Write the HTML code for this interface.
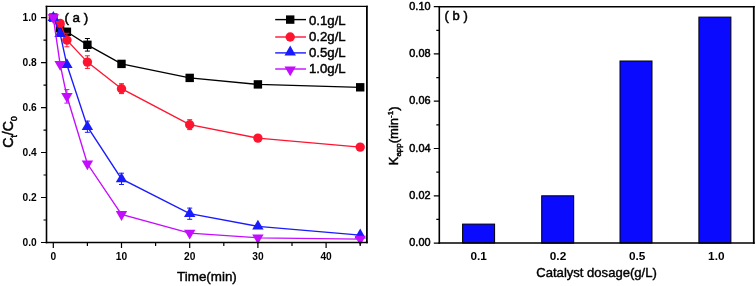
<!DOCTYPE html><html><head><meta charset="utf-8"><title>Figure</title><style>html,body{margin:0;padding:0;background:#fff}svg{display:block}text{font-family:"Liberation Sans",Arial,sans-serif;fill:#000}</style></head><body>
<svg width="756" height="286" viewBox="0 0 756 286">
<rect width="756" height="286" fill="#fff"/>
<g id="chartA">
<polyline points="53.3,17.6 60.1,28.2 66.9,31.8 87.4,44.8 121.5,63.9 189.7,77.9 257.9,84.4 360.2,87.3" fill="none" stroke="#000000" stroke-width="1.35"/>
<rect x="49.1" y="13.4" width="8.4" height="8.4" fill="#000000"/>
<rect x="55.9" y="24.0" width="8.4" height="8.4" fill="#000000"/>
<path d="M66.9,28.4V35.1M64.4,28.4h5M64.4,35.1h5" stroke="#000000" stroke-width="1" fill="none"/>
<rect x="62.7" y="27.6" width="8.4" height="8.4" fill="#000000"/>
<path d="M87.4,38.5V51.1M84.9,38.5h5M84.9,51.1h5" stroke="#000000" stroke-width="1" fill="none"/>
<rect x="83.2" y="40.6" width="8.4" height="8.4" fill="#000000"/>
<rect x="117.3" y="59.7" width="8.4" height="8.4" fill="#000000"/>
<rect x="185.5" y="73.7" width="8.4" height="8.4" fill="#000000"/>
<rect x="253.7" y="80.2" width="8.4" height="8.4" fill="#000000"/>
<rect x="356.0" y="83.1" width="8.4" height="8.4" fill="#000000"/>
<polyline points="53.3,17.6 60.1,23.4 66.9,40.1 87.4,62.1 121.5,88.7 189.7,124.7 257.9,138.1 360.2,147.1" fill="none" stroke="#ff1430" stroke-width="1.35"/>
<circle cx="53.3" cy="17.6" r="4.7" fill="#ff1430"/>
<circle cx="60.1" cy="23.4" r="4.7" fill="#ff1430"/>
<path d="M66.9,33.3V46.8M64.4,33.3h5M64.4,46.8h5" stroke="#ff1430" stroke-width="1" fill="none"/>
<circle cx="66.9" cy="40.1" r="4.7" fill="#ff1430"/>
<path d="M87.4,55.8V68.4M84.9,55.8h5M84.9,68.4h5" stroke="#ff1430" stroke-width="1" fill="none"/>
<circle cx="87.4" cy="62.1" r="4.7" fill="#ff1430"/>
<path d="M121.5,83.7V93.6M119.0,83.7h5M119.0,93.6h5" stroke="#ff1430" stroke-width="1" fill="none"/>
<circle cx="121.5" cy="88.7" r="4.7" fill="#ff1430"/>
<path d="M189.7,119.7V129.6M187.2,119.7h5M187.2,129.6h5" stroke="#ff1430" stroke-width="1" fill="none"/>
<circle cx="189.7" cy="124.7" r="4.7" fill="#ff1430"/>
<circle cx="257.9" cy="138.1" r="4.7" fill="#ff1430"/>
<circle cx="360.2" cy="147.1" r="4.7" fill="#ff1430"/>
<polyline points="53.3,17.6 60.1,33.6 66.9,64.8 87.4,126.7 121.5,178.9 189.7,213.7 257.9,226.3 360.2,235.1" fill="none" stroke="#1a1aff" stroke-width="1.35"/>
<polygon points="53.3,11.1 47.6,20.9 59.0,20.9" fill="#1a1aff"/>
<polygon points="60.1,27.1 54.4,36.9 65.8,36.9" fill="#1a1aff"/>
<polygon points="66.9,58.3 61.2,68.1 72.6,68.1" fill="#1a1aff"/>
<path d="M87.4,121.1V132.3M84.9,121.1h5M84.9,132.3h5" stroke="#1a1aff" stroke-width="1" fill="none"/>
<polygon points="87.4,120.2 81.7,130.0 93.1,130.0" fill="#1a1aff"/>
<path d="M121.5,173.2V184.5M119.0,173.2h5M119.0,184.5h5" stroke="#1a1aff" stroke-width="1" fill="none"/>
<polygon points="121.5,172.4 115.8,182.2 127.2,182.2" fill="#1a1aff"/>
<path d="M189.7,208.1V219.3M187.2,208.1h5M187.2,219.3h5" stroke="#1a1aff" stroke-width="1" fill="none"/>
<polygon points="189.7,207.2 184.0,217.0 195.4,217.0" fill="#1a1aff"/>
<polygon points="257.9,219.8 252.2,229.6 263.6,229.6" fill="#1a1aff"/>
<polygon points="360.2,228.6 354.5,238.4 365.9,238.4" fill="#1a1aff"/>
<polyline points="53.3,17.6 60.1,64.2 66.9,96.3 87.4,163.8 121.5,214.4 189.7,233.1 257.9,237.8 360.2,239.1" fill="none" stroke="#c40cff" stroke-width="1.35"/>
<polygon points="53.3,24.1 47.6,14.3 59.0,14.3" fill="#c40cff"/>
<polygon points="60.1,70.7 54.4,60.9 65.8,60.9" fill="#c40cff"/>
<path d="M66.9,89.6V103.1M64.4,89.6h5M64.4,103.1h5" stroke="#c40cff" stroke-width="1" fill="none"/>
<polygon points="66.9,102.8 61.2,93.0 72.6,93.0" fill="#c40cff"/>
<polygon points="87.4,170.3 81.7,160.5 93.1,160.5" fill="#c40cff"/>
<polygon points="121.5,220.9 115.8,211.1 127.2,211.1" fill="#c40cff"/>
<polygon points="189.7,239.6 184.0,229.8 195.4,229.8" fill="#c40cff"/>
<polygon points="257.9,244.3 252.2,234.5 263.6,234.5" fill="#c40cff"/>
<polygon points="360.2,245.6 354.5,235.8 365.9,235.8" fill="#c40cff"/>
<path d="M46.5,5.75V243.3" stroke="#000" stroke-width="1.6" fill="none"/>
<path d="M366.9,5.75V243.3" stroke="#000" stroke-width="1.8" fill="none"/>
<path d="M45.7,6.35H367.79999999999995" stroke="#000" stroke-width="1.25" fill="none"/>
<path d="M45.7,242.5H367.79999999999995" stroke="#000" stroke-width="1.6" fill="none"/>
<path d="M46.5,242.5h-5.5M46.5,220.0h-3M46.5,197.5h-5.5M46.5,175.0h-3M46.5,152.5h-5.5M46.5,130.1h-3M46.5,107.6h-5.5M46.5,85.1h-3M46.5,62.6h-5.5M46.5,40.1h-3M46.5,17.6h-5.5M53.3,242.5v5.6M87.4,242.5v3.6M121.5,242.5v5.6M155.6,242.5v3.6M189.7,242.5v5.6M223.8,242.5v3.6M257.9,242.5v5.6M292.0,242.5v3.6M326.1,242.5v5.6M360.2,242.5v3.6" stroke="#000" stroke-width="1.2" fill="none"/>
<text x="36.7" y="245.6" font-size="10.2" font-weight="bold" text-anchor="end">0.0</text>
<text x="36.7" y="200.6" font-size="10.2" font-weight="bold" text-anchor="end">0.2</text>
<text x="36.7" y="155.6" font-size="10.2" font-weight="bold" text-anchor="end">0.4</text>
<text x="36.7" y="110.7" font-size="10.2" font-weight="bold" text-anchor="end">0.6</text>
<text x="36.7" y="65.7" font-size="10.2" font-weight="bold" text-anchor="end">0.8</text>
<text x="36.7" y="20.7" font-size="10.2" font-weight="bold" text-anchor="end">1.0</text>
<text x="53.3" y="259.9" font-size="10.2" font-weight="bold" text-anchor="middle">0</text>
<text x="121.5" y="259.9" font-size="10.2" font-weight="bold" text-anchor="middle">10</text>
<text x="189.7" y="259.9" font-size="10.2" font-weight="bold" text-anchor="middle">20</text>
<text x="257.9" y="259.9" font-size="10.2" font-weight="bold" text-anchor="middle">30</text>
<text x="326.1" y="259.9" font-size="10.2" font-weight="bold" text-anchor="middle">40</text>
<text x="64.4" y="21.5" font-size="13.4" xml:space="preserve" stroke="#000" stroke-width="0.5">( a )</text>
<text x="177.1" y="281.4" font-size="12.7" textLength="59.7" lengthAdjust="spacingAndGlyphs" stroke="#000" stroke-width="0.4">Time(min)</text>
<text transform="translate(13.3,132) rotate(-90)" font-size="14.2" text-anchor="middle" stroke="#000" stroke-width="0.5">C<tspan font-size="8.5" dy="3.2">t</tspan><tspan dy="-3.2">/C</tspan><tspan font-size="8.5" dy="3.2">0</tspan></text>
<path d="M275.2,19.6H306" stroke="#000000" stroke-width="1.4"/>
<rect x="286.0" y="15.4" width="8.4" height="8.4" fill="#000000"/>
<text x="309" y="24.7" font-size="13.2" stroke="#000" stroke-width="0.45">0.1g/L</text>
<path d="M275.2,37.0H306" stroke="#ff1430" stroke-width="1.4"/>
<circle cx="290.2" cy="37.0" r="4.7" fill="#ff1430"/>
<text x="309" y="41.0" font-size="13.2" stroke="#000" stroke-width="0.45">0.2g/L</text>
<path d="M275.2,52.9H306" stroke="#1a1aff" stroke-width="1.4"/>
<polygon points="290.2,45.6 284.5,55.4 295.9,55.4" fill="#1a1aff"/>
<text x="309" y="56.6" font-size="13.2" stroke="#000" stroke-width="0.45">0.5g/L</text>
<path d="M275.2,69.0H306" stroke="#c40cff" stroke-width="1.4"/>
<polygon points="290.2,76.3 284.5,66.5 295.9,66.5" fill="#c40cff"/>
<text x="309" y="72.9" font-size="13.2" stroke="#000" stroke-width="0.45">1.0g/L</text>
</g>
<g id="chartB">
<rect x="462.6" y="224.1" width="32" height="18.9" fill="#0a0aff" stroke="#000" stroke-width="1"/>
<rect x="541.7" y="195.8" width="32" height="47.3" fill="#0a0aff" stroke="#000" stroke-width="1"/>
<rect x="620.0" y="61.0" width="32" height="182.0" fill="#0a0aff" stroke="#000" stroke-width="1"/>
<rect x="698.9" y="17.1" width="32" height="226.0" fill="#0a0aff" stroke="#000" stroke-width="1"/>
<path d="M439.3,5.95V243.85000000000002" stroke="#000" stroke-width="1.6" fill="none"/>
<path d="M753.8,5.95V243.85000000000002" stroke="#000" stroke-width="1.8" fill="none"/>
<path d="M438.5,6.65H754.6999999999999" stroke="#000" stroke-width="1.5" fill="none"/>
<path d="M438.5,243.05H754.6999999999999" stroke="#000" stroke-width="1.6" fill="none"/>
<path d="M439.3,243.1h-5.5M439.3,219.4h-3M439.3,195.8h-5.5M439.3,172.1h-3M439.3,148.5h-5.5M439.3,124.9h-3M439.3,101.2h-5.5M439.3,77.6h-3M439.3,53.9h-5.5M439.3,30.3h-3M439.3,6.7h-5.5" stroke="#000" stroke-width="1.2" fill="none"/>
<text x="430.5" y="246.1" font-size="10.9" stroke="#000" stroke-width="0.5" text-anchor="end">0.00</text>
<text x="430.5" y="198.8" font-size="10.9" stroke="#000" stroke-width="0.5" text-anchor="end">0.02</text>
<text x="430.5" y="151.5" font-size="10.9" stroke="#000" stroke-width="0.5" text-anchor="end">0.04</text>
<text x="430.5" y="104.2" font-size="10.9" stroke="#000" stroke-width="0.5" text-anchor="end">0.06</text>
<text x="430.5" y="56.9" font-size="10.9" stroke="#000" stroke-width="0.5" text-anchor="end">0.08</text>
<text x="430.5" y="9.7" font-size="10.9" stroke="#000" stroke-width="0.5" text-anchor="end">0.10</text>
<text x="478.6" y="259.7" font-size="11.8" font-weight="bold" text-anchor="middle">0.1</text>
<text x="558.0" y="259.7" font-size="11.8" font-weight="bold" text-anchor="middle">0.2</text>
<text x="637.2" y="259.7" font-size="11.8" font-weight="bold" text-anchor="middle">0.5</text>
<text x="716.3" y="259.7" font-size="11.8" font-weight="bold" text-anchor="middle">1.0</text>
<text x="444.6" y="20.1" font-size="13" xml:space="preserve" stroke="#000" stroke-width="0.5">( b )</text>
<text x="536.3" y="277.2" font-size="12.7" textLength="120.5" lengthAdjust="spacingAndGlyphs" stroke="#000" stroke-width="0.4">Catalyst dosage(g/L)</text>
<text transform="translate(397.8,135.9) rotate(-90)" font-size="13" text-anchor="middle" stroke="#000" stroke-width="0.45">K<tspan font-size="8" dy="3">app</tspan><tspan dy="-3">(min</tspan><tspan font-size="8" dy="-5">-1</tspan><tspan dy="5">)</tspan></text>
</g>
</svg></body></html>
